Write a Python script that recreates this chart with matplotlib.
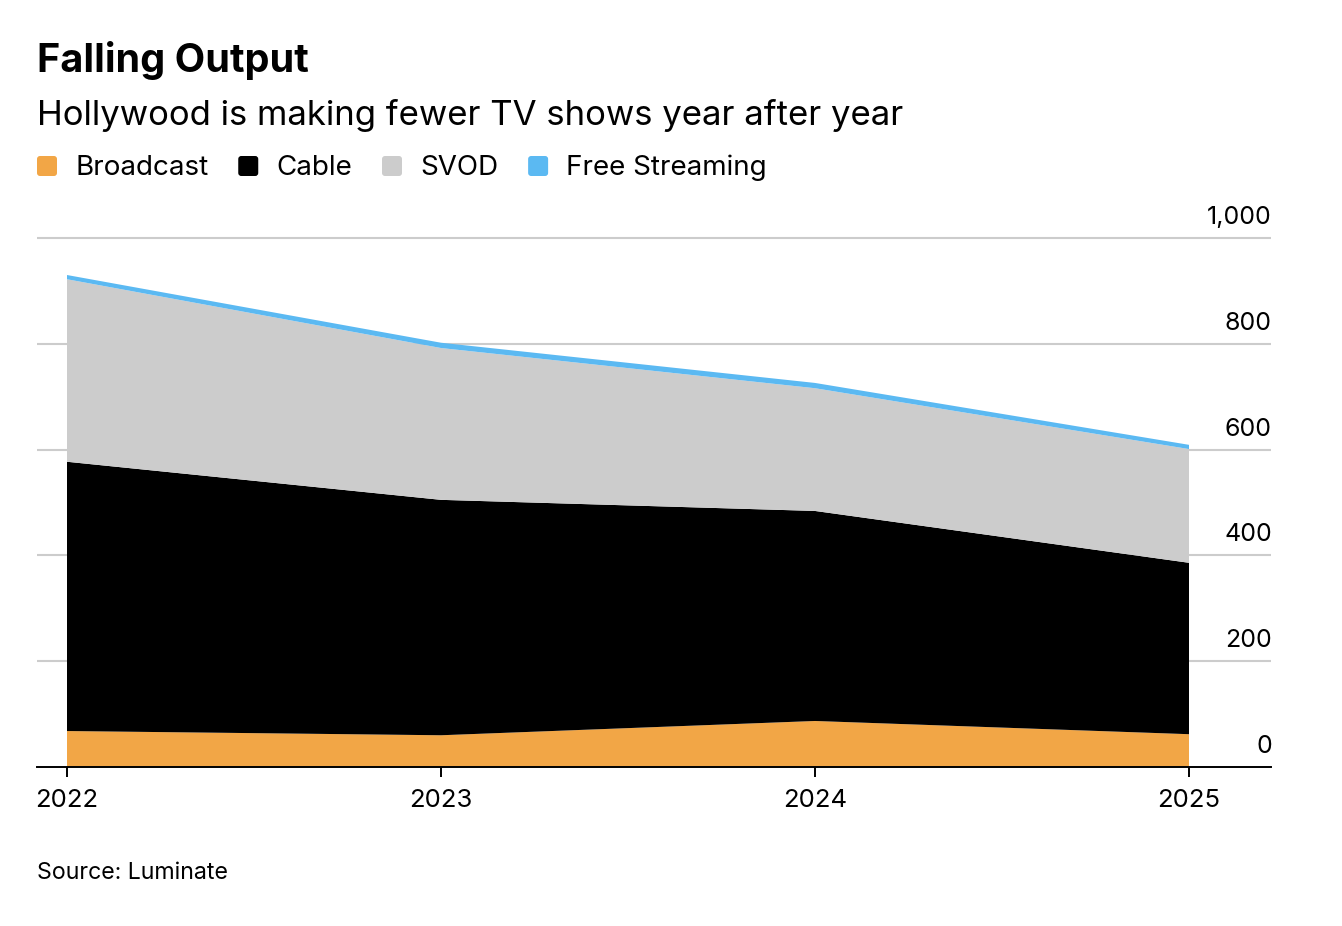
import matplotlib
matplotlib.use("Agg")
import matplotlib.pyplot as plt
from matplotlib.patches import FancyBboxPatch
from matplotlib.transforms import IdentityTransform, offset_copy

# data (number of TV shows per year)
years = [2022, 2023, 2024, 2025]
broadcast = [68, 60, 87, 62]
cable = [509, 445, 397, 324]
svod = [345, 287, 232, 215]
free_streaming = [8, 10, 10, 8]

series_names = ["Broadcast", "Cable", "SVOD", "Free Streaming"]
series_colors = ["#F2A646", "#000000", "#CCCCCC", "#5BB9F2"]

y_ticks = [0, 200, 400, 600, 800, 1000]
y_tick_labels = ["0", "200", "400", "600", "800", "1,000"]

plt.rcParams["font.family"] = ["Inter", "DejaVu Sans"]

W, H = 1342, 926
fig = plt.figure(figsize=(W / 100, H / 100), dpi=100)

# plot area in pixels: x 37..1271, y=0 at 767, y=1000 at 238
ax = fig.add_axes([37 / W, (H - 767) / H, (1271 - 37) / W, 539.6 / H])
ax.stackplot(years, broadcast, cable, svod, free_streaming,
             colors=series_colors, linewidth=0, zorder=2)
ax.set_xlim(2022 - 30 / 374, 2025 + 82 / 374)
ax.set_ylim(0, 1020)

# gridlines behind the areas
for v in y_ticks[1:]:
    ax.axhline(v, color="#CCCCCC", lw=1.5, zorder=1)

# y labels sit on top of their gridlines, right aligned
lab_tr = offset_copy(ax.get_yaxis_transform(), fig=fig, x=1, y=14, units="dots")
for v, s in zip(y_ticks, y_tick_labels):
    ax.text(1.0, v, s, transform=lab_tr, ha="right", va="baseline",
            fontsize=18, color="#000000")

ax.set_yticks([])
for side in ["left", "right", "top"]:
    ax.spines[side].set_visible(False)
ax.spines["bottom"].set_color("#000000")
ax.spines["bottom"].set_linewidth(1.4)
ax.spines["bottom"].set_zorder(3)

ax.set_xticks(years)
ax.set_xticklabels([str(y) for y in years])
ax.tick_params(axis="x", length=7.5, width=1.4, color="#000000",
               labelsize=18.5, pad=8)

# titles
fig.text(37 / W, 1 - 72 / H, "Falling Output", fontsize=28.5, fontweight="bold",
         va="baseline", ha="left")
fig.text(37 / W, 1 - 125 / H, "Hollywood is making fewer TV shows year after year",
         fontsize=25, va="baseline", ha="left")

# legend laid out left to right
renderer = fig.canvas.get_renderer()
x = 37
for name, col in zip(series_names, series_colors):
    sq = FancyBboxPatch((x, H - 176), 20, 20,
                        boxstyle="round,pad=0,rounding_size=3",
                        transform=IdentityTransform(), facecolor=col,
                        edgecolor="none")
    fig.patches.append(sq)
    t = fig.text((x + 38) / W, 1 - 175 / H, name, fontsize=20,
                 va="baseline", ha="left")
    bb = t.get_window_extent(renderer)
    x = bb.x1 + 30

fig.text(37 / W, 1 - 879 / H, "Source: Luminate", fontsize=16.7,
         va="baseline", ha="left")

fig.savefig("out.png", dpi=100)
